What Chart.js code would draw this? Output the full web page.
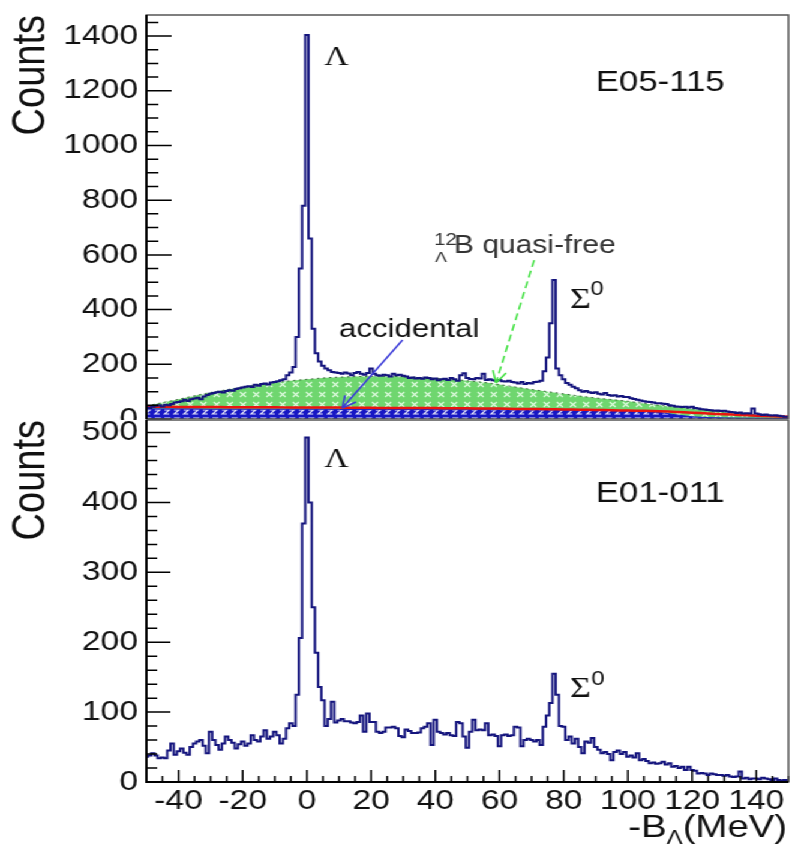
<!DOCTYPE html>
<html>
<head>
<meta charset="utf-8">
<title>Missing-mass spectra</title>
<script src="https://cdn.jsdelivr.net/npm/chart.js@4.4.1/dist/chart.umd.min.js"></script>
<style>
  html, body { margin: 0; padding: 0; background: #fff; overflow: hidden; }
  /* the original figure is stretched horizontally, so the whole stage is too */
  #stage { position: relative; width: 661px; height: 849px; transform: scaleX(1.2); transform-origin: 0 0; background: #fff; }
  #topChart { position: absolute; left: 0; top: 0; }
  #bottomChart { position: absolute; left: 0; top: 420px; }
</style>
</head>
<body>
<div id="stage">
  <canvas id="topChart" width="661" height="420"></canvas>
  <canvas id="bottomChart" width="661" height="429"></canvas>
</div>
<script>
const FONT = "'Liberation Sans', Arial, Helvetica, sans-serif";
const SERIF = "'Liberation Serif', 'Times New Roman', serif";

// -B_Lambda axis: 1 MeV bins centred on the integers -50 ... 150
const binStart = -50;
const binWidth = 1;
const xMin = -50;
const xMax = 150;

// E05-115 counts per bin
const countsE05 = [
  42, 40, 45, 48, 50, 46, 52, 50, 55, 60,
  62, 65, 70, 66, 72, 75, 78, 72, 82, 88,
  92, 95, 98, 100, 97, 102, 105, 103, 110, 112,
  115, 118, 120, 117, 125, 122, 128, 130, 126, 133,
  135, 138, 142, 145, 160, 170, 190, 300, 550, 780,
  1404, 660, 330, 240, 210, 195, 185, 178, 172, 170,
  168, 165, 170, 166, 160, 168, 172, 165, 162, 168,
  185, 165, 160, 158, 162, 160, 155, 165, 160, 162,
  158, 155, 150, 152, 148, 150, 147, 152, 150, 145,
  148, 142, 145, 147, 143, 150, 145, 140, 160, 167,
  150, 146, 145, 150, 148, 165, 143, 145, 142, 140,
  143, 138, 137, 140, 135, 133, 130, 135, 128, 132,
  130, 135, 136, 140, 175, 225, 350, 508, 185, 160,
  145, 132, 125, 118, 112, 105, 100, 102, 98, 95,
  98, 92, 90, 95, 88, 85, 87, 82, 84, 80,
  80, 76, 73, 70, 68, 65, 63, 62, 60, 58,
  58, 56, 55, 50, 48, 46, 45, 44, 45, 42,
  45, 40, 38, 36, 35, 33, 32, 30, 31, 29,
  30, 27, 26, 25, 22, 24, 20, 21, 20, 38,
  20, 17, 15, 16, 14, 13, 14, 12, 10, 8, 8
];

// E01-011 counts per bin
const countsE01 = [
  36, 38, 41, 38, 34, 35, 34, 45, 55, 39,
  44, 48, 42, 39, 50, 55, 58, 60, 52, 41,
  72, 60, 53, 46, 55, 65, 60, 56, 48, 54,
  58, 52, 55, 67, 60, 58, 65, 74, 62, 65,
  72, 67, 55, 62, 77, 84, 80, 125, 206, 370,
  493, 400, 250, 185, 136, 117, 80, 90, 115, 85,
  88, 90, 87, 87, 85, 84, 86, 95, 72, 98,
  86, 86, 72, 70, 72, 78, 78, 79, 77, 66,
  64, 75, 73, 70, 70, 71, 77, 79, 84, 53,
  89, 72, 70, 68, 70, 67, 66, 86, 84, 65,
  49, 72, 89, 74, 75, 74, 84, 67, 68, 66,
  51, 67, 68, 66, 67, 79, 78, 51, 60, 62,
  60, 58, 60, 53, 79, 95, 113, 155, 125, 80,
  79, 60, 65, 55, 62, 50, 41, 58, 56, 63,
  50, 46, 41, 43, 40, 31, 43, 45, 40, 43,
  36, 38, 35, 41, 31, 33, 30, 27, 28, 26,
  27, 29, 25, 27, 22, 23, 20, 22, 17, 22,
  17, 16, 12, 13, 12, 10, 12, 11, 10, 10,
  9, 10, 8, 7, 8, 15, 5, 6, 4, 5,
  5, 4, 6, 5, 4, 3, 5, 3, 2, 3, 3
];

// E05-115 background components, sampled every 5 MeV from -50 to 150
const compStart = -50;
const compStep = 5;
const quasiFree = [
  48, 60, 72, 85, 97, 107, 117, 126, 133, 140,
  145, 150, 153, 155, 156, 156, 155, 152, 149, 145,
  140, 134, 126, 117, 108, 100, 92, 84, 77, 71,
  65, 57, 50, 43, 37, 31, 25, 20, 15, 11,
  8
];
const accidental = [
  37, 37, 37, 37, 36, 36, 36, 36, 36, 36,
  36, 36, 35, 35, 35, 35, 35, 35, 34, 34,
  34, 34, 33, 33, 33, 33, 32, 32, 32, 31,
  30, 28, 24, 15, 8, 5, 4, 3, 3, 2,
  2
];
const accidentalFit = [
  45, 45, 44, 44, 44, 43, 43, 43, 43, 42,
  42, 42, 42, 41, 41, 40, 40, 40, 40, 39,
  39, 38, 38, 37, 37, 36, 35, 34, 33, 32,
  31, 30, 28, 26, 23, 20, 17, 15, 12, 10,
  8
];

// axis ticks
const xTickLabels = [-40, -20, 0, 20, 40, 60, 80, 100, 120, 140];
const yTickLabelsTop = [0, 200, 400, 600, 800, 1000, 1200, 1400];
const yTickLabelsBottom = [0, 100, 200, 300, 400, 500];
const yMaxTop = 1477;
const yMaxBottom = 518;

// annotations, placed in data coordinates (left edge / baseline)
const topTexts = [
  { text: 'E05-115', x: 90, y: 1200, font: '29px ' + FONT },
  { text: 'Λ', x: 5.4, y: 1294, font: '28px ' + SERIF },
  { text: 'Σ', x: 82, y: 406, font: '30px ' + SERIF },
  { text: '0', x: 88.3, y: 453, font: '20px ' + FONT },
  { text: 'accidental', x: 10, y: 300, font: '26px ' + FONT },
  { text: '12', x: 39.6, y: 636, font: '17px ' + FONT, color: '#333' },
  { text: 'Λ', x: 39.9, y: 574, font: '15px ' + FONT, color: '#333' },
  { text: 'B quasi-free', x: 45.8, y: 607, font: '25px ' + FONT, color: '#333' }
];
const topArrows = [
  { from: [29.8, 289], to: [11, 40], color: '#3a3ad8', dash: [] },
  { from: [70.8, 581], to: [58.9, 132], color: '#3ee03e', dash: [7, 4] }
];
const bottomTexts = [
  { text: 'E01-011', x: 90, y: 400, font: '29px ' + FONT },
  { text: 'Λ', x: 5.4, y: 451, font: '28px ' + SERIF },
  { text: 'Σ', x: 82, y: 122, font: '30px ' + SERIF },
  { text: '0', x: 88.6, y: 139, font: '20px ' + FONT }
];

const tickFont = { family: FONT, size: 28 };

function histPoints(counts) {
  const pts = counts.map((c, i) => ({ x: binStart + (i - 0.5) * binWidth, y: c }));
  pts.push({ x: binStart + (counts.length - 0.5) * binWidth, y: counts[counts.length - 1] });
  return pts;
}

function compPoints(vals) {
  return vals.map((v, i) => ({ x: compStart + i * compStep, y: v }));
}

function makePattern(canvasId, base, mark, w, h, strokes) {
  const tile = document.createElement('canvas');
  tile.width = w;
  tile.height = h;
  const g = tile.getContext('2d');
  g.fillStyle = base;
  g.fillRect(0, 0, w, h);
  g.strokeStyle = mark;
  g.lineWidth = 1.2;
  g.beginPath();
  strokes.forEach(s => {
    g.moveTo(s[0], s[1]);
    for (let k = 2; k < s.length; k += 2) g.lineTo(s[k], s[k + 1]);
  });
  g.stroke();
  return document.getElementById(canvasId).getContext('2d').createPattern(tile, 'repeat');
}

const greenHatch = makePattern('topChart', '#6fd66f', 'rgba(235,255,235,0.9)', 11, 10, [[2, 2, 7, 7], [7, 2, 2, 7]]);
const blueHatch = makePattern('topChart', '#1717c4', 'rgba(255,255,255,0.9)', 8, 8, [[1, 2, 5, 2, 1, 6, 5, 6]]);

function xAxis(showLabels) {
  return {
    type: 'linear',
    min: xMin,
    max: xMax,
    afterFit: s => { s.height = showLabels ? 67 : 0; s.paddingLeft = 0; s.paddingRight = 0; },
    grid: { display: false, drawTicks: false },
    border: { display: false },
    ticks: {
      display: showLabels,
      stepSize: 5,
      maxTicksLimit: 1000,
      includeBounds: false,
      autoSkip: false,
      maxRotation: 0,
      minRotation: 0,
      padding: 2,
      color: '#111',
      font: tickFont,
      callback: v => xTickLabels.includes(v) ? String(v) : ''
    }
  };
}

function yAxis(max, step, labels) {
  return {
    min: 0,
    max: max,
    afterFit: s => { s.width = 122; s.paddingTop = 0; s.paddingBottom = 0; },
    grid: { display: false, drawTicks: false },
    border: { display: false },
    ticks: {
      stepSize: step,
      maxTicksLimit: 1000,
      includeBounds: false,
      autoSkip: false,
      padding: 7,
      color: '#111',
      font: tickFont,
      callback: v => labels.includes(v) ? String(v) : ''
    },
    title: {
      display: true,
      text: 'Counts',
      align: 'end',
      color: '#111',
      font: { family: FONT, size: 38 },
      padding: { top: 4, bottom: 0 }
    }
  };
}

// ROOT style frame, inward ticks, labels and arrows
function decor(cfg) {
  return {
    id: 'rootDecor',
    afterDraw(chart) {
      const { ctx, chartArea: a } = chart;
      const xs = chart.scales.x;
      const ys = chart.scales.y;
      ctx.save();

      (cfg.arrows || []).forEach(ar => {
        const x0 = xs.getPixelForValue(ar.from[0]);
        const y0 = ys.getPixelForValue(ar.from[1]);
        const x1 = xs.getPixelForValue(ar.to[0]);
        const y1 = ys.getPixelForValue(ar.to[1]);
        ctx.strokeStyle = ar.color;
        ctx.lineWidth = 1.5;
        ctx.setLineDash(ar.dash);
        ctx.beginPath();
        ctx.moveTo(x0, y0);
        ctx.lineTo(x1, y1);
        ctx.stroke();
        ctx.setLineDash([]);
        const ang = Math.atan2(y1 - y0, x1 - x0);
        ctx.beginPath();
        [0.45, -0.45].forEach(d => {
          ctx.moveTo(x1, y1);
          ctx.lineTo(x1 - 13 * Math.cos(ang + d), y1 - 13 * Math.sin(ang + d));
        });
        ctx.stroke();
      });

      ctx.textAlign = 'left';
      ctx.textBaseline = 'alphabetic';
      (cfg.texts || []).forEach(t => {
        ctx.font = t.font;
        ctx.fillStyle = t.color || '#111';
        ctx.fillText(t.text, xs.getPixelForValue(t.x), ys.getPixelForValue(t.y));
      });

      ctx.strokeStyle = '#000';
      ctx.lineWidth = 1.5;
      ctx.beginPath();
      ys.ticks.forEach(t => {
        if (t.value % cfg.yStep !== 0) return;
        const py = ys.getPixelForValue(t.value);
        const len = t.label !== '' ? cfg.yMajor : cfg.yMinor;
        ctx.moveTo(a.left, py);
        ctx.lineTo(a.left + len, py);
      });
      if (cfg.xStep) {
        xs.ticks.forEach(t => {
          if (t.value % cfg.xStep !== 0) return;
          const px = xs.getPixelForValue(t.value);
          const len = t.label !== '' ? cfg.xMajor : cfg.xMinor;
          ctx.moveTo(px, a.bottom);
          ctx.lineTo(px, a.bottom - len);
        });
      }
      ctx.stroke();

      ctx.strokeStyle = '#555';
      ctx.lineWidth = 1.5;
      ctx.strokeRect(a.left, a.top, a.right - a.left, a.bottom - a.top);
      ctx.strokeStyle = '#000';
      ctx.lineWidth = 2;
      ctx.beginPath();
      ctx.moveTo(a.left, a.top);
      ctx.lineTo(a.left, a.bottom);
      if (cfg.xStep) ctx.lineTo(a.right, a.bottom);
      ctx.stroke();

      if (cfg.xTitle) {
        ctx.fillStyle = '#111';
        let total = 0;
        cfg.xTitle.forEach(p => { ctx.font = p.font; p.w = ctx.measureText(p.text).width; total += p.w; });
        let px = a.right - 1 - total;
        const base = a.bottom + 55;
        cfg.xTitle.forEach(p => {
          ctx.font = p.font;
          ctx.fillText(p.text, px, base + p.dy);
          px += p.w;
        });
      }
      ctx.restore();
    }
  };
}

new Chart(document.getElementById('topChart'), {
  type: 'line',
  data: {
    datasets: [
      { label: 'E05-115', data: histPoints(countsE05), stepped: true, borderColor: '#14147d', borderWidth: 2, pointRadius: 0, fill: false, order: 0 },
      { label: 'accidental fit', data: compPoints(accidentalFit), borderColor: '#e8140f', borderWidth: 2.5, pointRadius: 0, fill: false, tension: 0.3, order: 1 },
      { label: 'accidental', data: compPoints(accidental), borderColor: '#1a1ac8', backgroundColor: blueHatch, borderWidth: 1, pointRadius: 0, fill: 'origin', order: 2 },
      { label: 'quasi-free', data: compPoints(quasiFree), borderColor: 'rgba(20,60,20,0.7)', borderDash: [2, 3], backgroundColor: greenHatch, borderWidth: 1, pointRadius: 0, fill: 'origin', cubicInterpolationMode: 'monotone', order: 3 }
    ]
  },
  options: {
    responsive: false,
    animation: false,
    events: [],
    layout: { padding: { top: 15, right: 4, bottom: 1, left: 0 } },
    plugins: { legend: { display: false }, tooltip: { enabled: false } },
    scales: { x: xAxis(false), y: yAxis(yMaxTop, 50, yTickLabelsTop) }
  },
  plugins: [decor({ texts: topTexts, arrows: topArrows, yStep: 50, yMajor: 21, yMinor: 10 })]
});

new Chart(document.getElementById('bottomChart'), {
  type: 'line',
  data: {
    datasets: [
      { label: 'E01-011', data: histPoints(countsE01), stepped: true, borderColor: '#14147d', borderWidth: 2, pointRadius: 0, fill: false }
    ]
  },
  options: {
    responsive: false,
    animation: false,
    events: [],
    layout: { padding: { top: 0, right: 4, bottom: 0, left: 0 } },
    plugins: { legend: { display: false }, tooltip: { enabled: false } },
    scales: { x: xAxis(true), y: yAxis(yMaxBottom, 20, yTickLabelsBottom) }
  },
  plugins: [decor({
    texts: bottomTexts,
    yStep: 20, yMajor: 20, yMinor: 9,
    xStep: 5, xMajor: 12, xMinor: 6,
    xTitle: [
      { text: '-B', font: '32px ' + FONT, dy: 0 },
      { text: 'Λ', font: '20px ' + FONT, dy: 7 },
      { text: '(MeV)', font: '32px ' + FONT, dy: 0 }
    ]
  })]
});
</script>
</body>
</html>
